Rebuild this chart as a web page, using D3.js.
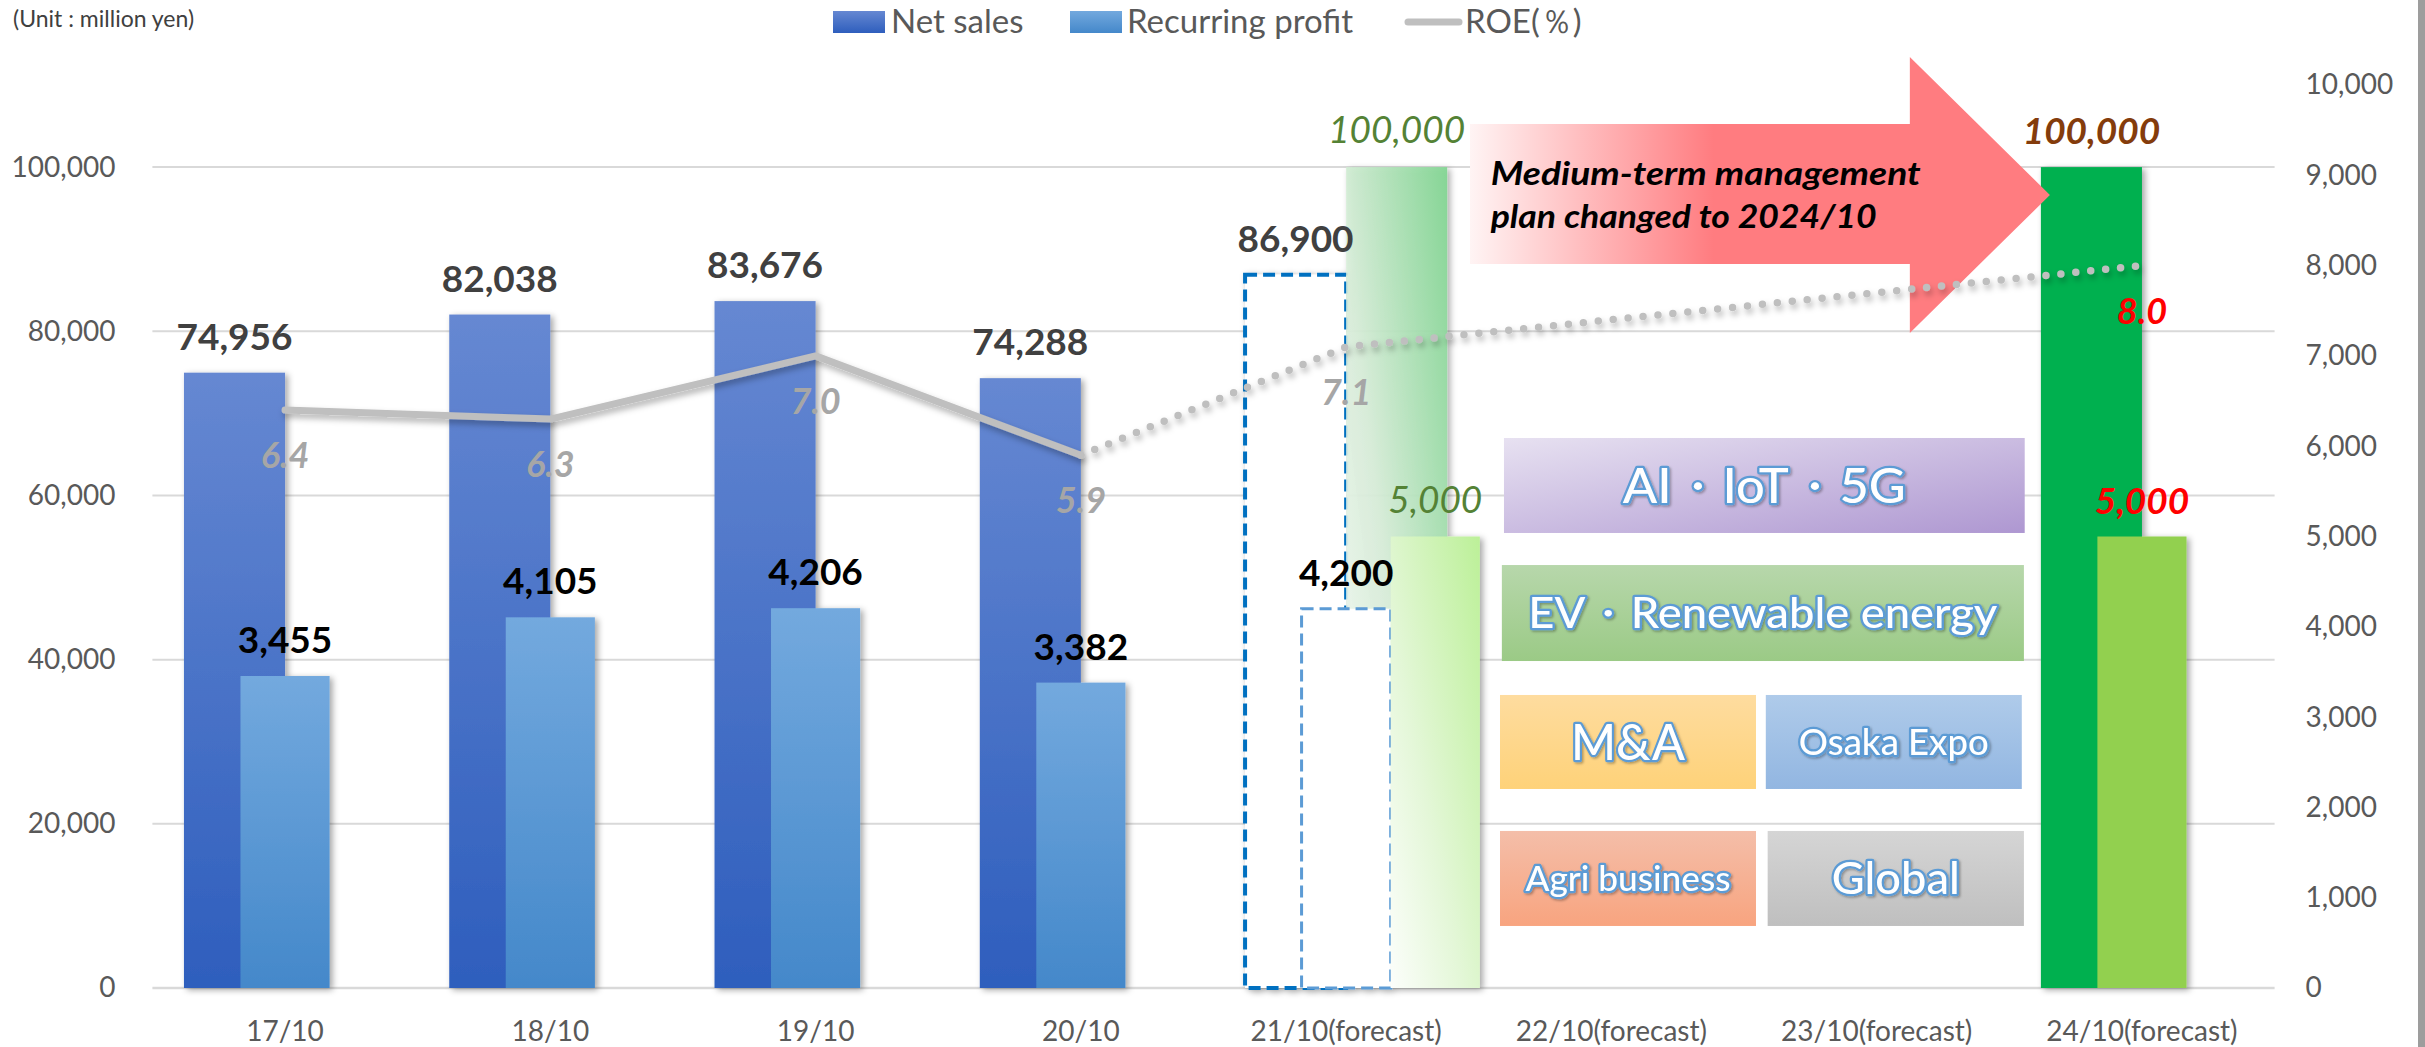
<!DOCTYPE html>
<html>
<head>
<meta charset="utf-8">
<script src="https://cdn.jsdelivr.net/npm/d3@7"></script>
<style>
  body { margin: 0; background: #fff; }
  svg { display: block; font-family: Lato, "Noto Sans", sans-serif; }
</style>
</head>
<body>
<div id="chart"></div>
<script>
// Chart values
const categories = ["17/10", "18/10", "19/10", "20/10", "21/10(forecast)", "22/10(forecast)", "23/10(forecast)", "24/10(forecast)"];
const status = ["actual", "actual", "actual", "actual", "forecast", "none", "none", "target"];
const netSales = [74956, 82038, 83676, 74288, 86900, null, null, 100000];
const recurringProfit = [3455, 4105, 4206, 3382, 4200, null, null, 5000];
const roe = [6.4, 6.3, 7.0, 5.9, 7.1, null, null, 8.0];
const planNetSales = [null, null, null, null, 100000, null, null, null];
const planRecurring = [null, null, null, null, 5000, null, null, null];
const leftTicks = [0, 20000, 40000, 60000, 80000, 100000];
const rightTicks = [0, 1000, 2000, 3000, 4000, 5000, 6000, 7000, 8000, 9000, 10000];
const legendItems = ["Net sales", "Recurring profit", "ROE(％)"];
const arrowLines = ["Medium-term management", "plan changed to 2024/10"];
const themes = ["AI・IoT・5G", "EV・Renewable energy", "M&A", "Osaka Expo", "Agri business", "Global"];

const rows = categories.map((c, i) => ({
  cat: c, status: status[i], ns: netSales[i], rp: recurringProfit[i],
  roe: roe[i], pns: planNetSales[i], prp: planRecurring[i]
}));

const width = 2425, height = 1047;

const svg = d3.select("#chart").append("svg")
  .attr("width", width)
  .attr("height", height);

// Scales
const x = d3.scaleBand().domain(categories).range([152.4, 2274.6]);
const yL = d3.scaleLinear().domain([0, 110000]).range([988, 85]);
const yR = d3.scaleLinear().domain([0, 10000]).range([988, 85]);
const yRoe = d3.scaleLinear().domain([0, 10]).range([988, 85]);

const step = x.step();
const nsW = step * 0.381, rpW = step * 0.336;
const cx = c => x(c) + step / 2;
const nsX = c => cx(c) - nsW;
const rpX = c => cx(c) - rpW / 2;
const ux = u => x.range()[0] + u * step;   // position in category units

// Gradients and filters
const defs = svg.append("defs");
function grad(id, stops, x2 = 0, y2 = 1, x1 = 0, y1 = 0) {
  const g = defs.append("linearGradient").attr("id", id)
    .attr("x1", x1).attr("y1", y1).attr("x2", x2).attr("y2", y2);
  stops.forEach(s => g.append("stop").attr("offset", s[0]).attr("stop-color", s[1])
    .attr("stop-opacity", s[2] == null ? 1 : s[2]));
}
grad("gNS", [[0, "#6688d2"], [1, "#2e5ebd"]]);
grad("gRP", [[0, "#73a9de"], [1, "#4488ca"]]);
grad("gPNS", [[0, "#80d591", 0.92], [0.55, "#d8eed9", 0.92], [1, "#ffffff", 0.9]], 0, 1, 1, 0);
grad("gPRP", [[0, "#bcf098"], [0.6, "#e4f7d8"], [1, "#fcfefb"]], 0, 1, 1, 0);
grad("gArrow", [[0, "#fff4f4"], [0.42, "#ff7c80"], [1, "#ff7c80"]], 1, 0);
grad("gAI", [[0, "#e7e1f1"], [1, "#ae97d1"]], 1, 1);
grad("gEV", [[0, "#b7d7ab"], [1, "#9bca86"]]);
grad("gMA", [[0, "#fedc9f"], [1, "#fed279"]]);
grad("gOsaka", [[0, "#afcbea"], [1, "#92b6e1"]]);
grad("gAgri", [[0, "#f4bea9"], [1, "#f8a47f"]]);
grad("gGlobal", [[0, "#d5d5d5"], [1, "#bfbfbf"]]);

defs.append("filter").attr("id", "shadow").attr("x", "-20%").attr("y", "-5%")
  .attr("width", "150%").attr("height", "115%")
  .append("feDropShadow").attr("dx", 3).attr("dy", 2).attr("stdDeviation", 3)
  .attr("flood-color", "#000").attr("flood-opacity", 0.35);
defs.append("filter").attr("id", "lineShadow").attr("x", "-5%").attr("y", "-20%")
  .attr("width", "110%").attr("height", "150%")
  .append("feDropShadow").attr("dx", 2).attr("dy", 4).attr("stdDeviation", 3)
  .attr("flood-color", "#000").attr("flood-opacity", 0.3);
defs.append("filter").attr("id", "textShadow")
  .append("feDropShadow").attr("dx", 1.5).attr("dy", 1.5).attr("stdDeviation", 1.2)
  .attr("flood-color", "#000").attr("flood-opacity", 0.3);

// Gridlines
svg.append("g").selectAll("line")
  .data(leftTicks)
  .join("line")
  .attr("x1", x.range()[0]).attr("x2", x.range()[1])
  .attr("y1", d => yL(d)).attr("y2", d => yL(d))
  .attr("stroke", "#d9d9d9")
  .attr("stroke-width", d => d === 0 ? 2.5 : 2);

// Axes
function styleAxis(g) {
  g.select(".domain").remove();
  g.selectAll(".tick text")
    .attr("font-family", "Lato, sans-serif")
    .attr("font-size", 28)
    .attr("fill", "#595959");
}
svg.append("g")
  .attr("transform", `translate(${x.range()[0]},0)`)
  .call(d3.axisLeft(yL).tickValues(leftTicks).tickFormat(d3.format(",")).tickSize(0).tickPadding(37))
  .call(styleAxis);
svg.append("g")
  .attr("transform", `translate(${x.range()[1]},0)`)
  .call(d3.axisRight(yR).tickValues(rightTicks).tickFormat(d3.format(",")).tickSize(0).tickPadding(31))
  .call(styleAxis);
svg.append("g")
  .attr("transform", `translate(0,${yL(0)})`)
  .call(d3.axisBottom(x).tickSize(0).tickPadding(33))
  .call(styleAxis);

// Bars
const bars = svg.append("g").attr("filter", "url(#shadow)");

// Net sales
bars.selectAll(".ns")
  .data(rows.filter(d => d.ns != null))
  .join("rect")
  .attr("x", d => nsX(d.cat))
  .attr("y", d => yL(d.ns))
  .attr("width", nsW)
  .attr("height", d => yL(0) - yL(d.ns))
  .attr("fill", d => d.status === "forecast" ? "#fff" : d.status === "target" ? "#00b050" : "url(#gNS)")
  .attr("stroke", d => d.status === "forecast" ? "#0070c0" : "none")
  .attr("stroke-width", 4)
  .attr("stroke-dasharray", "12 6");

// Net sales plan
bars.selectAll(".pns")
  .data(rows.filter(d => d.pns != null))
  .join("rect")
  .attr("x", d => cx(d.cat))
  .attr("y", d => yL(d.pns))
  .attr("width", nsW)
  .attr("height", d => yL(0) - yL(d.pns))
  .attr("fill", "url(#gPNS)");

// Recurring profit
bars.selectAll(".rp")
  .data(rows.filter(d => d.rp != null))
  .join("rect")
  .attr("x", d => rpX(d.cat))
  .attr("y", d => yR(d.rp))
  .attr("width", rpW)
  .attr("height", d => yR(0) - yR(d.rp))
  .attr("fill", d => d.status === "forecast" ? "#fff" : d.status === "target" ? "#92d050" : "url(#gRP)")
  .attr("stroke", d => d.status === "forecast" ? "#5b9bd5" : "none")
  .attr("stroke-width", 3)
  .attr("stroke-dasharray", "12 6");

// Recurring profit plan
bars.selectAll(".prp")
  .data(rows.filter(d => d.prp != null))
  .join("rect")
  .attr("x", d => rpX(d.cat) + rpW)
  .attr("y", d => yR(d.prp))
  .attr("width", rpW)
  .attr("height", d => yR(0) - yR(d.prp))
  .attr("fill", "url(#gPRP)");

// Big arrow (placed in chart units)
const aT = yR(9568), aB = yR(8018), hT = yR(10310), hB = yR(7254), tip = yR(8782);
const ax0 = ux(4.967), ax1 = ux(6.625), ax2 = ux(7.153);
svg.append("path")
  .attr("d", `M${ax0},${aT}L${ax1},${aT}L${ax1},${hT}L${ax2},${tip}L${ax1},${hB}L${ax1},${aB}L${ax0},${aB}Z`)
  .attr("fill", "url(#gArrow)");

svg.append("g").selectAll("text")
  .data(arrowLines)
  .join("text")
  .attr("x", ux(5.045))
  .attr("y", (d, i) => yR(i === 0 ? 8893 : 8416))
  .attr("font-size", 32)
  .attr("font-weight", 700)
  .attr("font-style", "italic")
  .attr("fill", "#000")
  .attr("textLength", (d, i) => i === 0 ? 430 : 386)
  .attr("lengthAdjust", "spacingAndGlyphs")
  .text(d => d);

// Theme boxes
const boxLayout = [
  { u0: 5.095, u1: 7.058, v0: 5039, v1: 6091, fill: "gAI", size: 48, len: 283 },
  { u0: 5.087, u1: 7.055, v0: 3621, v1: 4684, fill: "gEV", size: 42, len: 469 },
  { u0: 5.080, u1: 6.045, v0: 2204, v1: 3245, fill: "gMA", size: 50, len: 114 },
  { u0: 6.082, u1: 7.047, v0: 2204, v1: 3245, fill: "gOsaka", size: 36, len: 190 },
  { u0: 5.080, u1: 6.045, v0: 687, v1: 1739, fill: "gAgri", size: 35, len: 205 },
  { u0: 6.089, u1: 7.055, v0: 687, v1: 1739, fill: "gGlobal", size: 44, len: 128 }
];
const boxes = svg.append("g").selectAll("g")
  .data(themes.map((t, i) => ({ text: t, ...boxLayout[i] })))
  .join("g");
boxes.append("rect")
  .attr("x", d => ux(d.u0))
  .attr("y", d => yR(d.v1))
  .attr("width", d => ux(d.u1) - ux(d.u0))
  .attr("height", d => yR(d.v0) - yR(d.v1))
  .attr("fill", d => `url(#${d.fill})`);
boxes.append("text")
  .attr("x", d => (ux(d.u0) + ux(d.u1)) / 2)
  .attr("y", d => (yR(d.v0) + yR(d.v1)) / 2)
  .attr("dy", "0.36em")
  .attr("text-anchor", "middle")
  .attr("font-size", d => d.size)
  .attr("font-weight", 500)
  .attr("textLength", d => d.len)
  .attr("lengthAdjust", "spacingAndGlyphs")
  .attr("fill", "#fff")
  .attr("stroke", "#5b9bd5")
  .attr("stroke-width", 4.5)
  .attr("stroke-linejoin", "round")
  .attr("paint-order", "stroke")
  .attr("filter", "url(#textShadow)")
  .text(d => d.text);

// ROE line: solid for actual years, dotted for the plan
const roeLine = d3.line()
  .x(d => cx(d.cat))
  .y(d => yRoe(d.roe));
const roeRows = rows.filter(d => d.roe != null);
const lines = svg.append("g").attr("filter", "url(#lineShadow)");
lines.append("path")
  .datum(roeRows.filter(d => d.status === "actual"))
  .attr("d", roeLine)
  .attr("fill", "none")
  .attr("stroke", "#bfbfbf")
  .attr("stroke-width", 7)
  .attr("stroke-linecap", "round")
  .attr("stroke-linejoin", "round");
lines.append("path")
  .datum(roeRows.slice(3))
  .attr("d", roeLine)
  .attr("fill", "none")
  .attr("stroke", "#bfbfbf")
  .attr("stroke-width", 7.5)
  .attr("stroke-linecap", "round")
  .attr("stroke-dasharray", "0 15");

// Data labels
const fmt = d3.format(",");
const labels = svg.append("g").attr("font-size", 37);

labels.selectAll(".lns")
  .data(rows.filter(d => d.ns != null))
  .join("text")
  .attr("x", d => nsX(d.cat) + nsW / 2)
  .attr("y", d => yL(d.ns) - 23)
  .attr("text-anchor", "middle")
  .attr("font-weight", 700)
  .attr("font-style", d => d.status === "target" ? "italic" : "normal")
  .attr("fill", d => d.status === "target" ? "#843c0c" : "#404040")
  .text(d => fmt(d.ns));

labels.selectAll(".lrp")
  .data(rows.filter(d => d.rp != null))
  .join("text")
  .attr("x", d => cx(d.cat))
  .attr("y", d => yR(d.rp) - 23)
  .attr("text-anchor", "middle")
  .attr("font-weight", 700)
  .attr("font-style", d => d.status === "target" ? "italic" : "normal")
  .attr("fill", d => d.status === "target" ? "#ff0000" : "#000")
  .text(d => fmt(d.rp));

labels.selectAll(".lpns")
  .data(rows.filter(d => d.pns != null))
  .join("text")
  .attr("x", d => cx(d.cat) + nsW / 2)
  .attr("y", d => yL(d.pns) - 24)
  .attr("text-anchor", "middle")
  .attr("font-style", "italic")
  .attr("fill", "#548235")
  .text(d => fmt(d.pns));

labels.selectAll(".lprp")
  .data(rows.filter(d => d.prp != null))
  .join("text")
  .attr("x", d => rpX(d.cat) + rpW * 1.5)
  .attr("y", d => yR(d.prp) - 24)
  .attr("text-anchor", "middle")
  .attr("font-style", "italic")
  .attr("fill", "#548235")
  .text(d => fmt(d.prp));

labels.selectAll(".lroe")
  .data(roeRows)
  .join("text")
  .attr("x", d => cx(d.cat))
  .attr("y", d => yRoe(d.roe) + 58)
  .attr("text-anchor", "middle")
  .attr("font-size", 36)
  .attr("font-weight", 700)
  .attr("font-style", "italic")
  .attr("fill", d => d.status === "target" ? "#ff0000" : "#a6a6a6")
  .text(d => d.roe.toFixed(1));

// Legend
const legend = svg.append("g").attr("font-size", 33).attr("fill", "#595959");
legend.append("rect").attr("x", 833).attr("y", 11).attr("width", 52).attr("height", 22).attr("fill", "url(#gNS)");
legend.append("text").attr("x", 891).attr("y", 33).text(legendItems[0]);
legend.append("rect").attr("x", 1070).attr("y", 11).attr("width", 52).attr("height", 22).attr("fill", "url(#gRP)");
legend.append("text").attr("x", 1127).attr("y", 33).text(legendItems[1]);
legend.append("line").attr("x1", 1408).attr("x2", 1459).attr("y1", 22).attr("y2", 22)
  .attr("stroke", "#bfbfbf").attr("stroke-width", 7).attr("stroke-linecap", "round");
legend.append("text").attr("x", 1465).attr("y", 33).text(legendItems[2]);

// Unit note, kept fully inside the top edge
svg.append("text")
  .attr("x", 13).attr("y", 27)
  .attr("font-size", 23)
  .attr("fill", "#404040")
  .text("(Unit : million yen)");

// Frame edge on the right
svg.append("rect")
  .attr("x", 2418).attr("y", 0).attr("width", 7).attr("height", height)
  .attr("fill", "#9d9d9d");
</script>
</body>
</html>
